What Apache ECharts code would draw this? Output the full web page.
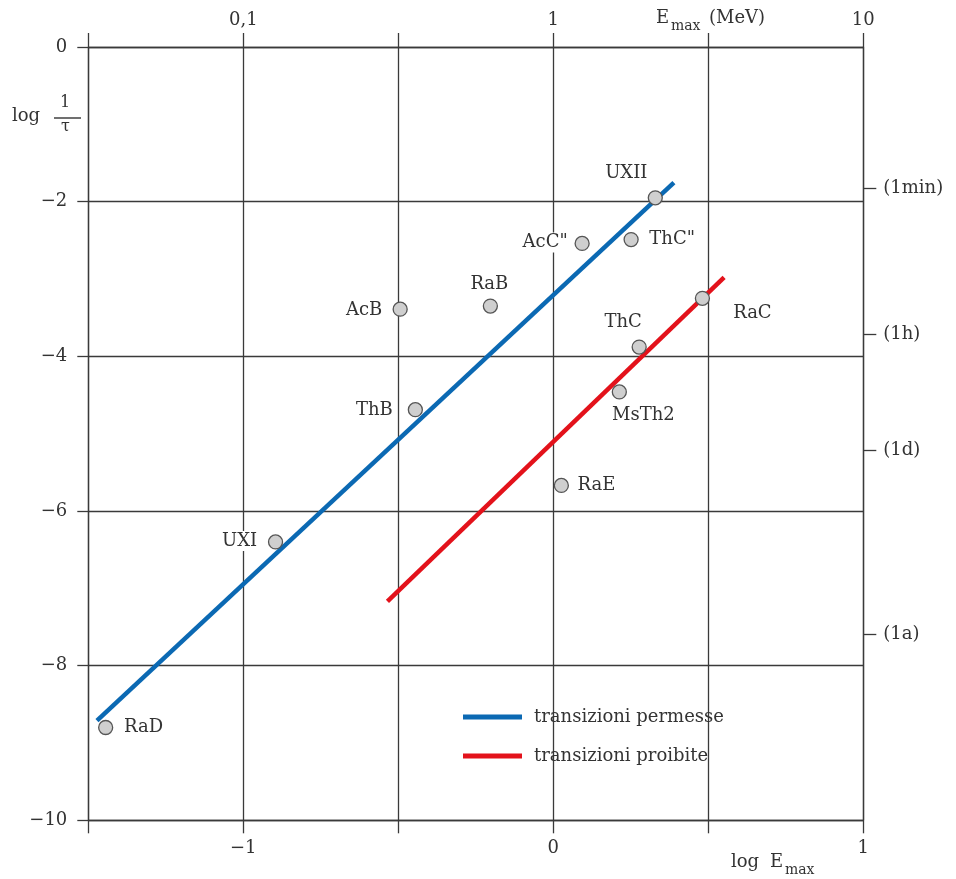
<!DOCTYPE html>
<html>
<head>
<meta charset="utf-8">
<script src="https://cdn.jsdelivr.net/npm/echarts@6/dist/echarts.min.js"></script>
<style>
html,body{margin:0;padding:0;background:#fff;}
#chart{width:956px;height:879px;}
</style>
</head>
<body>
<div id="chart"></div>
<script>
// ---- data ----
const pointNames = ['RaD', 'UXI', 'ThB', 'AcB', 'RaB', 'AcC"', 'ThC"', 'UXII', 'RaC', 'ThC', 'MsTh2', 'RaE'];
const pointLogE = [-1.444, -0.896, -0.445, -0.494, -0.203, 0.093, 0.251, 0.329, 0.481, 0.277, 0.213, 0.026];
const pointLogRate = [-8.80, -6.40, -4.69, -3.39, -3.35, -2.54, -2.49, -1.95, -3.25, -3.88, -4.46, -5.67];

const allowedName = 'transizioni permesse';
const allowedLogE = [-1.472, 0.389];
const allowedLogRate = [-8.71, -1.755];

const forbiddenName = 'transizioni proibite';
const forbiddenLogE = [-0.535, 0.551];
const forbiddenLogRate = [-7.17, -2.98];

const bottomTickValues = [-1, 0, 1];
const bottomTickLabels = ['\u22121', '0', '1'];
const topTickValues = [-1, 0, 1];
const topTickLabels = ['0,1', '1', '10'];
const leftTickValues = [0, -2, -4, -6, -8, -10];
const leftTickLabels = ['0', '\u22122', '\u22124', '\u22126', '\u22128', '\u221210'];
const rightTickValues = [-1.83, -3.72, -5.21, -7.60];
const rightTickLabels = ['(1min)', '(1h)', '(1d)', '(1a)'];

// ---- styles ----
const FONT = 'DejaVu Serif';
const TXT = '#333';
const LINE = '#3a3a3a';
const BLUE = '#0b69b3';
const RED = '#e3121b';
// label offsets (text centre relative to point centre), styling only
const labelOffsets = {
  'RaD': [38, 0], 'UXI': [-36, -1], 'ThB': [-41, 1], 'AcB': [-36, 1], 'RaB': [-1, -22],
  'AcC"': [-37, -1], 'ThC"': [41, 0], 'UXII': [-29, -24], 'RaC': [50, 15], 'ThC': [-16, -25],
  'MsTh2': [24, 23], 'RaE': [35, 0]
};

function lookup(values, labels) {
  return function (v) {
    for (let i = 0; i < values.length; i++) if (Math.abs(values[i] - v) < 1e-6) return labels[i];
    return '';
  };
}

const scatterData = pointNames.map((n, i) => ({
  name: n,
  value: [pointLogE[i], pointLogRate[i]],
  label: { offset: labelOffsets[n] }
}));

const chart = echarts.init(document.getElementById('chart'), null, { renderer: 'canvas' });

const axisLineStyle = { color: LINE, width: 1.3 };
const labelStyle = { fontFamily: FONT, fontSize: 18, color: TXT };

chart.setOption({
  backgroundColor: '#fff',
  animation: false,
  textStyle: { fontFamily: FONT },
  grid: { left: 88.3, right: 92.7, top: 47, bottom: 58.7, containLabel: false, outerBoundsMode: 'none' },
  legend: {
    orient: 'vertical',
    left: 463,
    top: 707,
    padding: 0,
    itemWidth: 59,
    itemHeight: 5,
    itemGap: 19,
    icon: 'rect',
    data: [allowedName, forbiddenName],
    textStyle: { fontFamily: FONT, fontSize: 18, color: TXT, lineHeight: 20, padding: [0, 0, 0, 7] }
  },
  xAxis: [
    {
      type: 'value', position: 'bottom', min: -1.5, max: 1, interval: 0.5,
      axisLine: { show: true, onZero: false, lineStyle: axisLineStyle },
      axisTick: { show: true, inside: false, length: 13, lineStyle: axisLineStyle },
      axisLabel: Object.assign({ customValues: bottomTickValues, formatter: lookup(bottomTickValues, bottomTickLabels), margin: 19 }, labelStyle),
      splitLine: { show: true, lineStyle: axisLineStyle }
    },
    {
      type: 'value', position: 'top', min: -1.5, max: 1, interval: 0.5,
      axisLine: { show: true, onZero: false, lineStyle: axisLineStyle },
      axisTick: { show: true, inside: false, length: 14, lineStyle: axisLineStyle },
      axisLabel: Object.assign({ customValues: topTickValues, formatter: lookup(topTickValues, topTickLabels), margin: 18 }, labelStyle),
      splitLine: { show: false }
    }
  ],
  yAxis: [
    {
      type: 'value', position: 'left', min: -10, max: 0, interval: 2,
      axisLine: { show: true, onZero: false, lineStyle: axisLineStyle },
      axisTick: { show: true, inside: false, length: 11, lineStyle: axisLineStyle },
      axisLabel: Object.assign({ formatter: lookup(leftTickValues, leftTickLabels), margin: 21 }, labelStyle),
      splitLine: { show: true, lineStyle: axisLineStyle }
    },
    {
      type: 'value', position: 'right', min: -10, max: 0,
      axisLine: { show: true, onZero: false, lineStyle: axisLineStyle },
      axisTick: { show: true, inside: false, length: 13, customValues: rightTickValues, lineStyle: axisLineStyle },
      axisLabel: Object.assign({ customValues: rightTickValues, formatter: lookup(rightTickValues, rightTickLabels), margin: 20 }, labelStyle),
      splitLine: { show: false }
    }
  ],
  series: [
    {
      name: allowedName, type: 'line', xAxisIndex: 0, yAxisIndex: 0,
      data: allowedLogE.map((x, i) => [x, allowedLogRate[i]]),
      symbol: 'none', lineStyle: { color: BLUE, width: 4.5 }, itemStyle: { color: BLUE }, z: 3
    },
    {
      name: forbiddenName, type: 'line', xAxisIndex: 0, yAxisIndex: 0,
      data: forbiddenLogE.map((x, i) => [x, forbiddenLogRate[i]]),
      symbol: 'none', lineStyle: { color: RED, width: 4.5 }, itemStyle: { color: RED }, z: 3
    },
    {
      name: 'nuclei', type: 'scatter', xAxisIndex: 0, yAxisIndex: 0,
      data: scatterData,
      symbol: 'circle', symbolSize: 14,
      itemStyle: { color: '#cfcfcf', borderColor: '#555', borderWidth: 1.3, opacity: 1 },
      label: {
        show: true, position: 'inside', formatter: '{b}',
        fontFamily: FONT, fontSize: 18, color: TXT,
        align: 'center', verticalAlign: 'middle',
        backgroundColor: '#fff', padding: [1, 3]
      },
      emphasis: { disabled: true },
      z: 5
    }
  ],
  graphic: [
    { type: 'text', left: 656, top: 9, style: { text: 'E', fontFamily: FONT, fontSize: 18, fill: TXT } },
    { type: 'text', left: 671, top: 19, style: { text: 'max', fontFamily: FONT, fontSize: 14, fill: TXT } },
    { type: 'text', left: 709, top: 9, style: { text: '(MeV)', fontFamily: FONT, fontSize: 18, fill: TXT } },
    { type: 'text', left: 731, top: 853, style: { text: 'log', fontFamily: FONT, fontSize: 18, fill: TXT } },
    { type: 'text', left: 770, top: 853, style: { text: 'E', fontFamily: FONT, fontSize: 18, fill: TXT } },
    { type: 'text', left: 785, top: 863, style: { text: 'max', fontFamily: FONT, fontSize: 14, fill: TXT } },
    { type: 'text', left: 12, top: 107, style: { text: 'log', fontFamily: FONT, fontSize: 18, fill: TXT } },
    { type: 'text', left: 60, top: 95, style: { text: '1', fontFamily: FONT, fontSize: 16, fill: TXT } },
    { type: 'line', shape: { x1: 54, y1: 118, x2: 81, y2: 118 }, style: { stroke: TXT, lineWidth: 1.4 } },
    { type: 'text', left: 61, top: 119, style: { text: '\u03c4', fontFamily: FONT, fontSize: 16, fill: TXT } }
  ]
});
</script>
</body>
</html>
